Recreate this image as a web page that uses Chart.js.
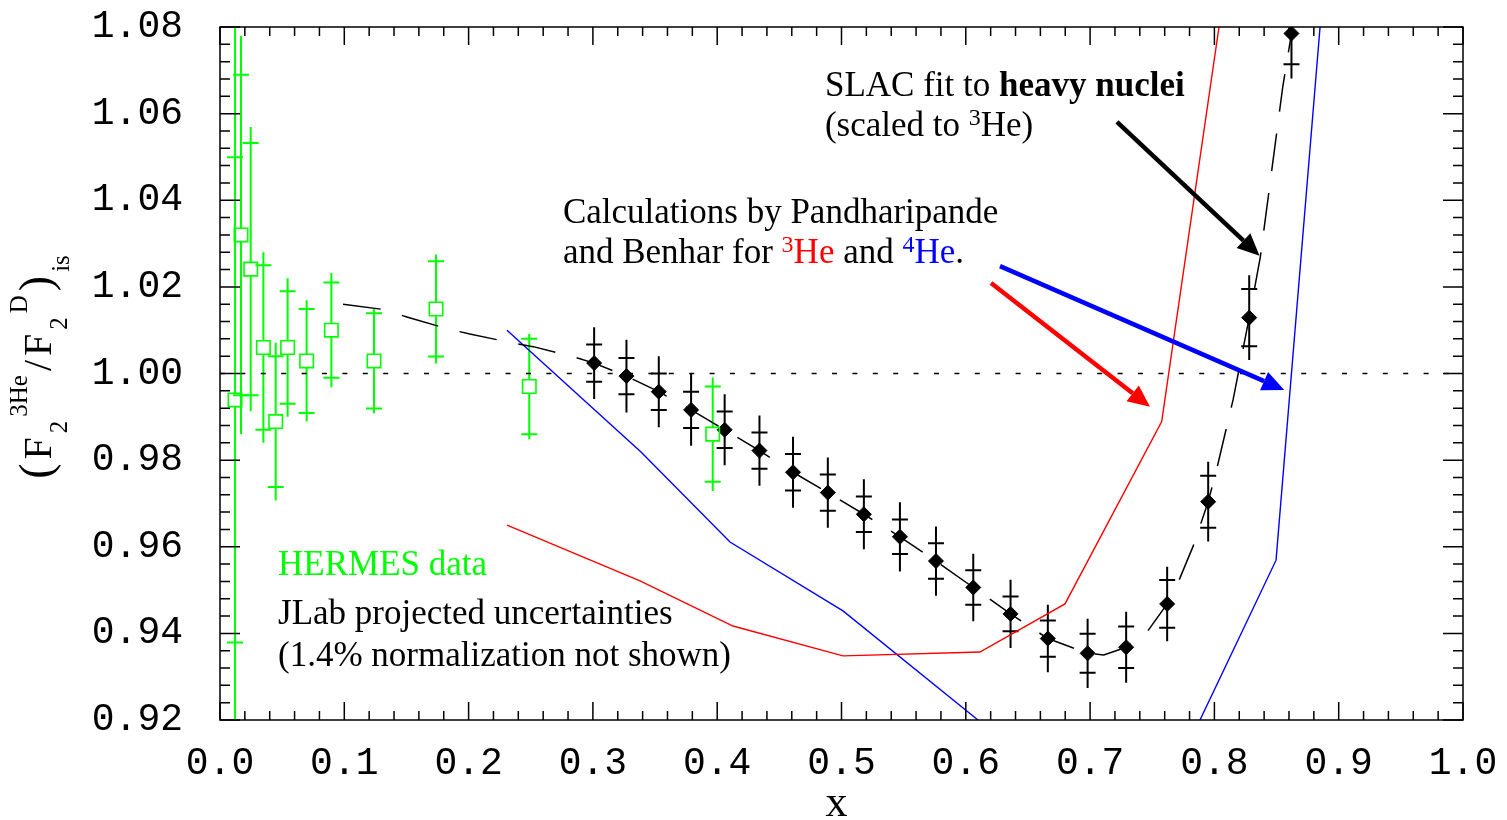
<!DOCTYPE html>
<html>
<head>
<meta charset="utf-8">
<script src="https://cdn.jsdelivr.net/npm/chart.js@4.4.0/dist/chart.umd.min.js"></script>
<style>
  html, body { margin: 0; padding: 0; background: #fff; }
</style>
</head>
<body>
<canvas id="ratioChart" width="1507" height="820"></canvas>
<script>
// ---- data ----
const xTickVals = [0.0, 0.1, 0.2, 0.3, 0.4, 0.5, 0.6, 0.7, 0.8, 0.9, 1.0];
const xTickLabels = ['0.0', '0.1', '0.2', '0.3', '0.4', '0.5', '0.6', '0.7', '0.8', '0.9', '1.0'];
const yTickVals = [0.92, 0.94, 0.96, 0.98, 1.00, 1.02, 1.04, 1.06, 1.08];
const yTickLabels = ['0.92', '0.94', '0.96', '0.98', '1.00', '1.02', '1.04', '1.06', '1.08'];

// JLab projected points (black diamonds), stat error (capped) and total error (bar)
const jlabX = [0.301, 0.327, 0.353, 0.379, 0.406, 0.434, 0.461, 0.489, 0.518, 0.547, 0.576, 0.606, 0.636, 0.666, 0.698, 0.729, 0.762, 0.795, 0.828, 0.862];
const jlabY = [1.0024, 0.9994, 0.9958, 0.9916, 0.9870, 0.9822, 0.9772, 0.9725, 0.9675, 0.9623, 0.9567, 0.9506, 0.9445, 0.9388, 0.9354, 0.9368, 0.9468, 0.9704, 1.0129, 1.0785];
const jlabStat = [0.0043, 0.0042, 0.0042, 0.0042, 0.0042, 0.0042, 0.0042, 0.0042, 0.0041, 0.0040, 0.0041, 0.0040, 0.0040, 0.0042, 0.0045, 0.0048, 0.0055, 0.0060, 0.0066, 0.0071];
const jlabTotal = [0.0083, 0.0084, 0.0082, 0.0083, 0.0082, 0.0081, 0.0082, 0.0081, 0.0081, 0.0080, 0.0080, 0.0078, 0.0079, 0.0078, 0.0080, 0.0082, 0.0086, 0.0092, 0.0098, 0.0104];

// HERMES data (green squares)
const hermesX = [0.0121, 0.0169, 0.0247, 0.0349, 0.0448, 0.0544, 0.0697, 0.0896, 0.1239, 0.1738, 0.2488, 0.3964];
const hermesY = [0.9939, 1.0320, 1.0241, 1.0060, 0.9889, 1.0060, 1.0029, 1.0100, 1.0029, 1.0149, 0.9970, 0.9860];
const hermesStat = [0.056, 0.037, 0.0291, 0.0190, 0.0151, 0.0130, 0.0120, 0.0110, 0.0110, 0.0110, 0.0110, 0.0110];
const hermesTotal = [0.100, 0.046, 0.0328, 0.0220, 0.0182, 0.0160, 0.0140, 0.0132, 0.0121, 0.0126, 0.0122, 0.0131];

// SLAC fit to heavy nuclei (dashed)
const slacX = [0.099, 0.131, 0.151, 0.182, 0.201, 0.233, 0.252, 0.284, 0.301, 0.327, 0.353, 0.379, 0.406, 0.434, 0.461, 0.489, 0.518, 0.547, 0.576, 0.606, 0.636, 0.666, 0.698, 0.711, 0.729, 0.746, 0.762, 0.771, 0.783, 0.795, 0.802, 0.815, 0.828, 0.837, 0.846, 0.855, 0.862, 0.8625];
const slacY = [1.0160, 1.0148, 1.0130, 1.0104, 1.0091, 1.0072, 1.0062, 1.0039, 1.0024, 0.9994, 0.9958, 0.9916, 0.9870, 0.9822, 0.9772, 0.9725, 0.9675, 0.9623, 0.9567, 0.9506, 0.9445, 0.9388, 0.9354, 0.9350, 0.9368, 0.9404, 0.9468, 0.9519, 0.9602, 0.9704, 0.9781, 0.9939, 1.0129, 1.0270, 1.0466, 1.0662, 1.0785, 1.0800];

// Pandharipande & Benhar calculations
const he3X = [0.2309, 0.3379, 0.4127, 0.5012, 0.6114, 0.6798, 0.7576, 0.8037];
const he3Y = [0.9650, 0.9521, 0.9417, 0.9348, 0.9357, 0.9468, 0.9889, 1.0800];
const he4X = [0.2309, 0.3387, 0.4103, 0.5012, 0.6098, 0.70, 0.7884, 0.8496, 0.8850];
const he4Y = [1.0100, 0.9819, 0.9611, 0.9452, 0.9200, null, 0.9200, 0.9569, 1.0800];

// reference line at unity
const unityX = [0.0, 1.0];
const unityY = [1.0, 1.0];

const RED = '#ff0000', BLUE = '#0000ff', GREEN = '#00ff00';
const SERIF = '"Liberation Serif", "Times New Roman", serif';
const MONO = '"Liberation Mono", "Courier New", monospace';

const pts = (xs, ys) => xs.map((x, i) => ({ x: x, y: ys[i] }));

// text annotations, anchored in data units
const notes = [
    { x: 0.4867, y: 1.0641, parts: [{ t: 'SLAC fit to ' }, { t: 'heavy nuclei', b: true }] },
    { x: 0.4867, y: 1.0548, parts: [{ t: '(scaled to ' }, { t: '3', sup: true }, { t: 'He)' }] },
    { x: 0.2759, y: 1.0347, parts: [{ t: 'Calculations by Pandharipande' }] },
    { x: 0.2759, y: 1.0255, parts: [{ t: 'and Benhar for ' }, { t: '3', sup: true, c: RED }, { t: 'He', c: RED }, { t: ' and ' }, { t: '4', sup: true, c: BLUE }, { t: 'He', c: BLUE }, { t: '.' }] },
    { x: 0.0467, y: 0.9535, parts: [{ t: 'HERMES data', c: GREEN }] },
    { x: 0.0467, y: 0.9422, parts: [{ t: 'JLab projected uncertainties' }] },
    { x: 0.0467, y: 0.9325, parts: [{ t: '(1.4% normalization not shown)' }] }
];

const arrows = [
    { from: [0.7216, 1.0581], to: [0.8363, 1.0272], color: '#000' },
    { from: [0.6203, 1.0209], to: [0.7482, 0.9923], color: RED },
    { from: [0.6275, 1.0248], to: [0.8562, 0.9962], color: BLUE }
];

// error bars: long bar for the total error, cross caps at the stat error
const errorBars = {
    id: 'errorBars',
    beforeDatasetsDraw(chart) {
        const { ctx, chartArea: a, scales: { x, y } } = chart;
        ctx.save();
        ctx.beginPath();
        ctx.rect(a.left, a.top, a.right - a.left, a.bottom - a.top);
        ctx.clip();
        const draw = (xs, ys, stat, tot, color, gap) => {
            ctx.strokeStyle = color;
            ctx.lineWidth = 2;
            xs.forEach((xv, i) => {
                const px = x.getPixelForValue(xv);
                const py = y.getPixelForValue(ys[i]);
                const top = y.getPixelForValue(ys[i] + tot[i]);
                const bot = y.getPixelForValue(ys[i] - tot[i]);
                ctx.beginPath();
                ctx.moveTo(px, top); ctx.lineTo(px, py - gap);
                ctx.moveTo(px, py + gap); ctx.lineTo(px, bot);
                [ys[i] + stat[i], ys[i] - stat[i]].forEach(v => {
                    const cy = y.getPixelForValue(v);
                    ctx.moveTo(px - 8, cy); ctx.lineTo(px + 8, cy);
                });
                ctx.stroke();
            });
        };
        draw(hermesX, hermesY, hermesStat, hermesTotal, GREEN, 6.7);
        draw(jlabX, jlabY, jlabStat, jlabTotal, '#000', 0);
        ctx.restore();
    }
};

// frame with inward ticks on all four sides
const frame = {
    id: 'frame',
    afterDatasetsDraw(chart) {
        const { ctx, chartArea: a, scales: { x, y } } = chart;
        ctx.save();
        ctx.strokeStyle = '#000';
        ctx.lineWidth = 1.5;
        ctx.strokeRect(a.left, a.top, a.right - a.left, a.bottom - a.top);
        ctx.beginPath();
        for (let i = 0; i <= 50; i++) {
            const px = x.getPixelForValue(i * 0.02);
            const len = i % 5 === 0 ? 18 : 9;
            ctx.moveTo(px, a.bottom); ctx.lineTo(px, a.bottom - len);
            ctx.moveTo(px, a.top); ctx.lineTo(px, a.top + len);
        }
        for (let i = 0; i <= 40; i++) {
            const py = y.getPixelForValue(0.92 + i * 0.004);
            const len = i % 5 === 0 ? 20 : 10;
            ctx.moveTo(a.left, py); ctx.lineTo(a.left + len, py);
            ctx.moveTo(a.right, py); ctx.lineTo(a.right - len, py);
        }
        ctx.stroke();
        ctx.restore();
    }
};

function drawParts(ctx, parts, x0, y0, size) {
    let cx = x0;
    parts.forEach(p => {
        const fs = p.sup ? Math.round(size * 0.68) : size;
        ctx.font = (p.b ? 'bold ' : '') + fs + 'px ' + SERIF;
        ctx.fillStyle = p.c || '#000';
        ctx.fillText(p.t, cx, p.sup ? y0 - size * 0.33 : y0);
        cx += ctx.measureText(p.t).width;
    });
}

const annotations = {
    id: 'annotations',
    afterDraw(chart) {
        const { ctx, chartArea: a, scales: { x, y } } = chart;
        ctx.save();
        ctx.textBaseline = 'alphabetic';
        ctx.textAlign = 'left';
        notes.forEach(n => drawParts(ctx, n.parts, x.getPixelForValue(n.x), y.getPixelForValue(n.y), 35));

        // arrows
        arrows.forEach(ar => {
            const x1 = x.getPixelForValue(ar.from[0]), y1 = y.getPixelForValue(ar.from[1]);
            const x2 = x.getPixelForValue(ar.to[0]), y2 = y.getPixelForValue(ar.to[1]);
            const ang = Math.atan2(y2 - y1, x2 - x1);
            const head = 22, half = 10;
            const bx = x2 - head * Math.cos(ang), by = y2 - head * Math.sin(ang);
            ctx.strokeStyle = ar.color;
            ctx.fillStyle = ar.color;
            ctx.lineWidth = 4.5;
            ctx.beginPath();
            ctx.moveTo(x1, y1); ctx.lineTo(bx, by);
            ctx.stroke();
            ctx.beginPath();
            ctx.moveTo(x2, y2);
            ctx.lineTo(bx + half * Math.sin(ang), by - half * Math.cos(ang));
            ctx.lineTo(bx - half * Math.sin(ang), by + half * Math.cos(ang));
            ctx.closePath();
            ctx.fill();
        });

        // x axis title
        ctx.fillStyle = '#000';
        ctx.font = '44px ' + SERIF;
        ctx.textAlign = 'center';
        ctx.fillText('x', (a.left + a.right) / 2 - 5, 816);

        // y axis title: (F_2^3He / F_2^D)_is, rotated
        const big = '40px ' + SERIF, small = '25px ' + SERIF, paren = '46px ' + SERIF;
        const pieces = [
            ['(', paren, 0], ['F', big, 0], ['2', small, 16], ['3He', small, -24],
            ['/', big, 0], ['F', big, 0], ['2', small, 16], ['D', small, -24],
            [')', paren, 0], ['is', small, 18]
        ];
        const gap = 4;
        let total = 0;
        pieces.forEach(p => { ctx.font = p[1]; total += ctx.measureText(p[0]).width + gap; });
        total -= gap;
        ctx.translate(51, 367);
        ctx.rotate(-Math.PI / 2);
        ctx.textAlign = 'left';
        let pos = -total / 2;
        pieces.forEach(p => {
            ctx.font = p[1];
            ctx.fillText(p[0], pos, p[2]);
            pos += ctx.measureText(p[0]).width + gap;
        });
        ctx.restore();
    }
};

new Chart(document.getElementById('ratioChart').getContext('2d'), {
    type: 'scatter',
    data: {
        datasets: [
            { label: 'unity', data: pts(unityX, unityY), showLine: true, borderColor: '#000', borderWidth: 1.6, borderDash: [5, 15.4], pointRadius: 0 },
            { label: 'SLAC fit', data: pts(slacX, slacY), showLine: true, borderColor: '#000', borderWidth: 1.5, borderDash: [38, 22], pointRadius: 0 },
            { label: '3He calc', data: pts(he3X, he3Y), showLine: true, borderColor: RED, borderWidth: 1.4, pointRadius: 0 },
            { label: '4He calc', data: pts(he4X, he4Y), showLine: true, borderColor: BLUE, borderWidth: 1.4, pointRadius: 0, spanGaps: false },
            { label: 'HERMES', data: pts(hermesX, hermesY), showLine: false, pointStyle: 'rect', pointRadius: 9.5, borderWidth: 1.6, borderColor: GREEN, backgroundColor: 'rgba(0,0,0,0)' },
            { label: 'JLab', data: pts(jlabX, jlabY), showLine: false, pointStyle: 'rectRot', pointRadius: 7.5, borderWidth: 1, borderColor: '#000', backgroundColor: '#000' }
        ]
    },
    options: {
        responsive: false,
        animation: false,
        layout: { padding: { top: 27, right: 44, left: 0, bottom: 0 } },
        plugins: { legend: { display: false }, tooltip: { enabled: false } },
        scales: {
            x: {
                type: 'linear', min: 0, max: 1,
                grid: { display: false, drawTicks: false },
                border: { display: false },
                afterFit: s => { s.height = 100; s.paddingLeft = 0; s.paddingRight = 0; },
                afterBuildTicks: s => { s.ticks = xTickVals.map(v => ({ value: v })); },
                ticks: {
                    padding: 21, color: '#000', maxRotation: 0, autoSkip: false,
                    font: { family: MONO, size: 38 },
                    callback: (v, i) => xTickLabels[i]
                }
            },
            y: {
                type: 'linear', min: 0.92, max: 1.08,
                grid: { display: false, drawTicks: false },
                border: { display: false },
                afterFit: s => { s.width = 220; s.paddingTop = 0; s.paddingBottom = 0; },
                afterBuildTicks: s => { s.ticks = yTickVals.map(v => ({ value: v })); },
                ticks: {
                    padding: 37, color: '#000', autoSkip: false,
                    font: { family: MONO, size: 38 },
                    callback: (v, i) => yTickLabels[i]
                }
            }
        }
    },
    plugins: [errorBars, frame, annotations]
});
</script>
</body>
</html>
